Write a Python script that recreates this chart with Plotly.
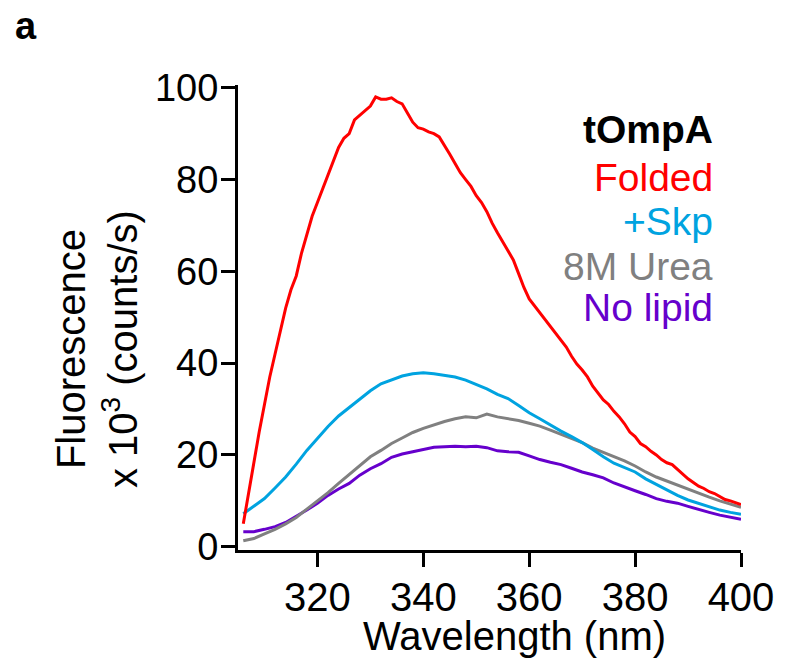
import plotly.graph_objects as go

# Folded (red), 1 nm steps
wl_red = list(range(306, 401))
folded = [5, 12, 19, 25, 31, 37, 42, 47, 52, 56,
          59, 64, 68, 72, 75, 78, 81, 84, 87, 89,
          90, 93, 94, 95, 96, 98, 97.5, 97.5, 97.8, 97,
          96.5, 94.5, 92.5, 91.3, 91, 90.4, 90, 89.3, 87.5, 85.5,
          83.5, 81.5, 80, 78.5, 76.5, 75, 73, 70.5, 68.4, 66.5,
          64.5, 62.5, 59.5, 56.5, 54, 52.5, 51, 49.5, 48, 46.5,
          45, 43.5, 41.5, 39.8, 38.5, 37, 35, 33.5, 32, 31,
          29.5, 28.3, 26.8, 25, 24, 22.5, 21.8, 20.8, 20, 19,
          18.3, 17.9, 16.8, 15.8, 14.8, 14, 13.2, 12.7, 12, 11.6,
          11, 10.3, 10, 9.6, 9.2]

# Other series, 2 nm steps
wl = list(range(306, 401, 2))
skp = [7.2, 8.8, 10.5, 12.8, 15.2, 18.0, 21.0, 23.6, 26.2, 28.5,
       30.4, 32.3, 34.0, 35.5, 36.4, 37.2, 37.7, 37.9, 37.7, 37.4,
       37.0, 36.3, 35.4, 34.4, 33.2, 32.3, 30.8, 29.2, 27.9, 26.5,
       25.2, 24.0, 22.7, 21.2, 19.6, 18.2, 17.3, 16.3, 14.8, 13.6,
       12.4, 11.2, 10.2, 9.5, 8.8, 8.0, 7.5, 7.1]
urea = [1.3, 1.8, 2.8, 3.8, 5.0, 6.4, 8.2, 9.9, 11.8, 13.8,
        15.8, 17.7, 19.6, 21.0, 22.5, 23.7, 24.9, 25.8, 26.6, 27.3,
        27.9, 28.3, 28.1, 28.9, 28.3, 27.9, 27.5, 26.9, 26.3, 25.4,
        24.5, 23.6, 22.7, 21.5, 20.6, 19.7, 18.7, 17.6, 16.3, 15.2,
        14.3, 13.5, 12.5, 11.6, 10.8, 10.0, 9.3, 8.6]
nolipid = [3.3, 3.3, 3.8, 4.4, 5.3, 6.6, 8.0, 9.5, 11.2, 12.6,
           13.8, 15.6, 17.0, 18.1, 19.5, 20.2, 20.7, 21.3, 21.7, 21.8,
           21.9, 21.8, 21.9, 21.6, 20.9, 20.7, 20.6, 19.8, 19.0, 18.4,
           17.9, 17.1, 16.3, 15.7, 15.0, 13.9, 13.0, 12.2, 11.4, 10.5,
           9.9, 9.5, 8.8, 8.1, 7.5, 6.9, 6.5, 6.0]

x_ticks = [320, 340, 360, 380, 400]
y_ticks = [0, 20, 40, 60, 80, 100]
legend_title = "tOmpA"
names = ["Folded", "+Skp", "8M Urea", "No lipid"]
colors = ["#FF0000", "#00A3E0", "#808080", "#6600CC"]

FONT = "Liberation Sans, Arial, sans-serif"
L, R, T, B = 238, 44, 85, 112
PW, PH = 785 - L - R, 662 - T - B

fig = go.Figure()
series = [(wl, nolipid, 3), (wl, urea, 2), (wl, skp, 1), (wl_red, folded, 0)]
for xs, ys, i in series:
    fig.add_trace(go.Scatter(x=xs, y=ys, mode="lines", name=names[i],
                             line=dict(color=colors[i], width=3),
                             showlegend=False))

fig.update_layout(
    width=785, height=662,
    margin=dict(l=L, r=R, t=T, b=B),
    paper_bgcolor="white", plot_bgcolor="white",
    font=dict(family=FONT, size=39, color="black"),
    xaxis=dict(range=[305, 400], tickvals=x_ticks, showgrid=False, zeroline=False,
               showline=True, linewidth=3, linecolor="black",
               ticks="outside", ticklen=14, tickwidth=3, tickcolor="black",
               ticklabelstandoff=-4, tickfont=dict(size=40)),
    yaxis=dict(range=[-0.7, 100.6], tickvals=y_ticks, showgrid=False, zeroline=False,
               showline=True, linewidth=3, linecolor="black",
               ticks="outside", ticklen=14, tickwidth=3, tickcolor="black",
               ticklabelstandoff=-5, tickfont=dict(size=38)),
)

# x axis title
fig.add_annotation(text="Wavelength (nm)", xref="paper", yref="paper",
                   x=(514 - L) / PW, y=-(636 - (T + PH)) / PH,
                   xanchor="center", yanchor="middle", showarrow=False,
                   font=dict(family=FONT, size=40, color="black"))

# y axis title as rotated annotation
fig.add_annotation(text="Fluorescence<br>x 10<sup>3</sup> (counts/s)",
                   xref="paper", yref="paper",
                   x=-(L - 97) / PW, y=1 - (349 - T) / PH,
                   xanchor="center", yanchor="middle",
                   textangle=-90, showarrow=False,
                   font=dict(family=FONT, size=40, color="black"))

# legend as text annotations
leg_items = [(legend_title, "black", True)] + [(n, c, False) for n, c in zip(names, colors)]
ys_px = [129, 177, 221, 266, 307]
for (txt, col, bold), ypx in zip(leg_items, ys_px):
    fig.add_annotation(text=f"<b>{txt}</b>" if bold else txt,
                       xref="paper", yref="paper",
                       x=(715 - L) / PW,
                       y=1 - (ypx - T) / PH,
                       xanchor="right", yanchor="middle", showarrow=False,
                       font=dict(family=FONT, size=39, color=col))

fig.add_annotation(text="<b>a</b>", xref="paper", yref="paper",
                   x=-(L - 26) / PW, y=1 + (T - 26) / PH,
                   xanchor="center", yanchor="middle", showarrow=False,
                   font=dict(family=FONT, size=38, color="black"))

fig.write_html("out.html")
